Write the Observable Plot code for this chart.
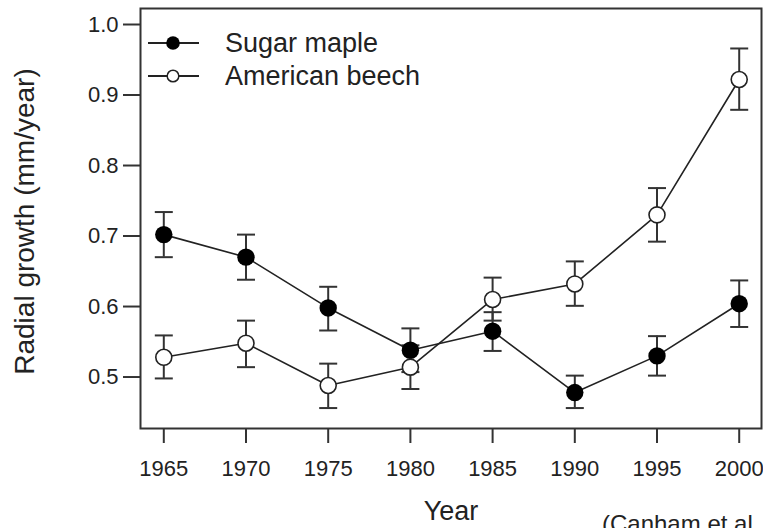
<!DOCTYPE html>
<html>
<head>
<meta charset="utf-8">
<script src="https://cdn.jsdelivr.net/npm/d3@7"></script>
<script src="https://cdn.jsdelivr.net/npm/@observablehq/plot@0.6"></script>
<style>
  html, body { margin: 0; padding: 0; background: #fff; }
  body { width: 763px; height: 528px; overflow: hidden; position: relative; font-family: "Liberation Sans", Arial, sans-serif; }
  #caption { position: absolute; left: 602px; top: 512px; font-size: 24px; color: #222; white-space: nowrap; line-height: 1; }
</style>
</head>
<body>
<div id="chart"></div>
<div id="caption">(Canham et al.</div>
<script>
const years = [1965, 1970, 1975, 1980, 1985, 1990, 1995, 2000];
const mapleMean = [0.702, 0.670, 0.598, 0.538, 0.565, 0.478, 0.530, 0.604];
const mapleLo   = [0.670, 0.638, 0.566, 0.507, 0.537, 0.456, 0.502, 0.571];
const mapleHi   = [0.734, 0.702, 0.628, 0.569, 0.592, 0.502, 0.558, 0.637];
const beechMean = [0.528, 0.548, 0.488, 0.514, 0.610, 0.632, 0.730, 0.922];
const beechLo   = [0.498, 0.514, 0.456, 0.483, 0.580, 0.601, 0.692, 0.879];
const beechHi   = [0.559, 0.580, 0.519, 0.545, 0.641, 0.664, 0.768, 0.966];
const seriesNames = ["Sugar maple", "American beech"];
const xTicks = [1965, 1970, 1975, 1980, 1985, 1990, 1995, 2000];
const yTicks = [0.5, 0.6, 0.7, 0.8, 0.9, 1.0];
const xTitle = "Year";
const yTitle = "Radial growth (mm/year)";

const maple = years.map((year, i) => ({year, mean: mapleMean[i], lo: mapleLo[i], hi: mapleHi[i]}));
const beech = years.map((year, i) => ({year, mean: beechMean[i], lo: beechLo[i], hi: beechHi[i]}));
const all = maple.concat(beech);

const capSymbol = { draw(ctx) { ctx.moveTo(-9, 0); ctx.lineTo(9, 0); } };

const W = 763, H = 528, ML = 140, MR = 2, MT = 8, MB = 100;
const ink = "#222";

const plot = Plot.plot({
  width: W,
  height: H,
  marginLeft: ML,
  marginRight: MR,
  marginTop: MT,
  marginBottom: MB,
  style: { fontFamily: "'Liberation Sans', Arial, sans-serif", fontSize: "22px", color: ink, background: "white" },
  x: { domain: [1963.583, 2001.356] },
  y: { domain: [0.4270, 1.0227] },
  marks: [
    Plot.frame({ stroke: "#333", strokeWidth: 2 }),
    Plot.axisX({ ticks: xTicks, tickSize: 15, tickPadding: 17, tickFormat: d => String(d), stroke: "#333", strokeWidth: 2, label: null }),
    Plot.axisY({ ticks: yTicks, tickSize: 17, tickPadding: 5, tickFormat: d3.format(".1f"), stroke: "#333", strokeWidth: 2, label: null }),
    Plot.ruleX(all, { x: "year", y1: "lo", y2: "hi", stroke: "#333", strokeWidth: 2 }),
    Plot.dot(all, { x: "year", y: "lo", symbol: capSymbol, fill: "none", stroke: "#333", strokeWidth: 2 }),
    Plot.dot(all, { x: "year", y: "hi", symbol: capSymbol, fill: "none", stroke: "#333", strokeWidth: 2 }),
    Plot.line(maple, { x: "year", y: "mean", stroke: ink, strokeWidth: 1.6 }),
    Plot.line(beech, { x: "year", y: "mean", stroke: ink, strokeWidth: 1.6 }),
    Plot.dot(maple, { x: "year", y: "mean", r: 8.7, fill: "#000", stroke: "none" }),
    Plot.dot(beech, { x: "year", y: "mean", r: 8, fill: "#fff", stroke: ink, strokeWidth: 1.6 }),
    Plot.text([xTitle], { frameAnchor: "bottom", textAnchor: "middle", lineAnchor: "bottom", dy: 91, fontSize: 27, fill: ink }),
    Plot.text([yTitle], { frameAnchor: "left", textAnchor: "middle", lineAnchor: "middle", rotate: -90, dx: -115, dy: 3, fontSize: 28, fill: ink })
  ]
});

document.getElementById("chart").appendChild(plot);

// Legend (inside the frame, top-left)
const svg = d3.select(plot);
const leg = svg.append("g").attr("transform", `translate(${ML},${MT})`);
seriesNames.forEach((name, i) => {
  const cy = 35 + i * 33;
  leg.append("line").attr("x1", 8).attr("x2", 59).attr("y1", cy).attr("y2", cy)
    .attr("stroke", ink).attr("stroke-width", 1.8);
  if (i === 0) {
    leg.append("circle").attr("cx", 33).attr("cy", cy).attr("r", 6.8).attr("fill", "#000");
  } else {
    leg.append("circle").attr("cx", 33).attr("cy", cy).attr("r", 5.8).attr("fill", "#fff")
      .attr("stroke", ink).attr("stroke-width", 1.5);
  }
  leg.append("text").attr("x", 85).attr("y", cy).attr("dy", "0.35em")
    .attr("text-anchor", "start")
    .attr("font-size", 27).attr("fill", ink).text(name);
});
</script>
</body>
</html>
